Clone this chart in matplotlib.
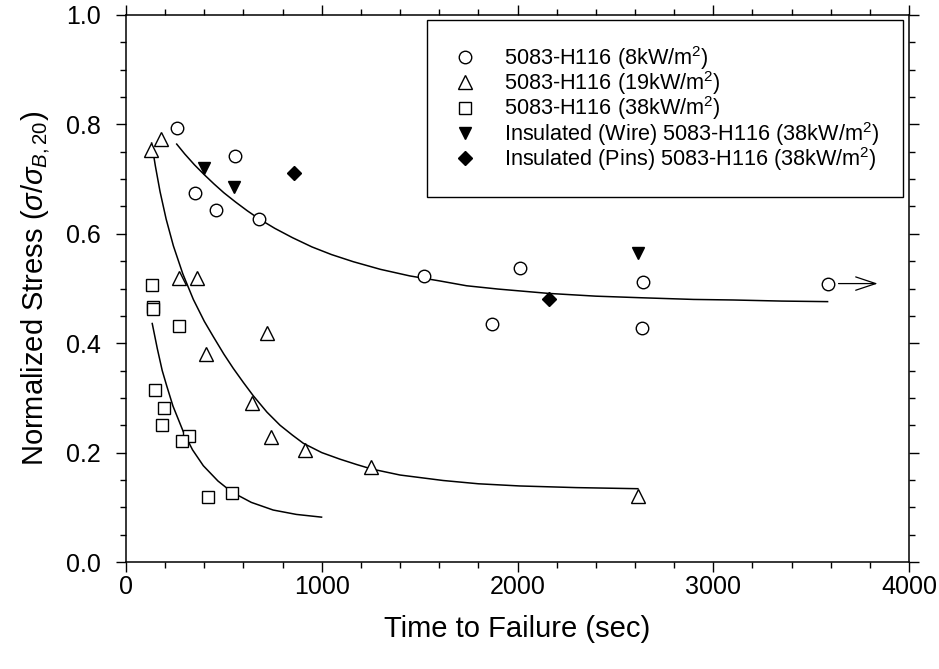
import matplotlib
matplotlib.use("Agg")
import matplotlib.pyplot as plt
from matplotlib.ticker import MultipleLocator, FormatStrFormatter

plt.rcParams['font.family'] = ['Liberation Sans', 'DejaVu Sans']
plt.rcParams['mathtext.fontset'] = 'custom'
plt.rcParams['mathtext.rm'] = 'Liberation Sans'
plt.rcParams['mathtext.it'] = 'Liberation Sans:italic'

# Datos
t_8kw = [259, 555, 352, 460, 681, 1522, 2012, 1869, 2639, 2637, 3584]
s_8kw = [0.793, 0.743, 0.675, 0.644, 0.627, 0.522, 0.538, 0.435, 0.512, 0.427, 0.509]

t_19kw = [126, 179, 272, 364, 409, 719, 644, 741, 913, 1250, 2615]
s_19kw = [0.754, 0.773, 0.519, 0.519, 0.380, 0.418, 0.291, 0.228, 0.205, 0.173, 0.121]

t_38kw = [131, 136, 139, 272, 148, 193, 182, 323, 288, 420, 540]
s_38kw = [0.506, 0.467, 0.462, 0.431, 0.314, 0.282, 0.250, 0.231, 0.221, 0.118, 0.126]

t_wire = [398, 552, 2618]
s_wire = [0.721, 0.686, 0.565]

t_pins = [860, 2160]
s_pins = [0.711, 0.480]

# Curvas de ajuste
fit1_t = [259, 300, 350, 400, 450, 500, 560, 620, 681, 760, 850, 950, 1050, 1161,
          1300, 1450, 1600, 1740, 1900, 2160, 2400, 2639, 2900, 3102, 3350, 3584]
fit1_s = [0.764, 0.746, 0.726, 0.708, 0.691, 0.675, 0.658, 0.642, 0.627, 0.610, 0.593,
          0.576, 0.562, 0.549, 0.535, 0.523, 0.514, 0.505, 0.499, 0.491, 0.486, 0.483,
          0.480, 0.479, 0.477, 0.476]

fit2_t = [131, 150, 174, 205, 242, 290, 344, 400, 446, 500, 548, 600, 650, 720, 787,
          850, 906, 1000, 1093, 1180, 1255, 1400, 1620, 1800, 2012, 2300, 2615]
fit2_s = [0.766, 0.724, 0.677, 0.627, 0.578, 0.527, 0.480, 0.440, 0.412, 0.380, 0.354,
          0.328, 0.304, 0.274, 0.250, 0.232, 0.217, 0.200, 0.188, 0.178, 0.170, 0.159,
          0.149, 0.143, 0.139, 0.136, 0.134]

fit3_t = [134, 160, 185, 208, 240, 293, 340, 395, 470, 540, 640, 752, 870, 999]
fit3_s = [0.436, 0.390, 0.350, 0.322, 0.285, 0.238, 0.205, 0.176, 0.148, 0.128, 0.109,
          0.095, 0.087, 0.082]

# Flecha (ensayo sin falla)
flecha_inicio = (3640, 0.509)
flecha_fin = (3840, 0.509)

fig = plt.figure(figsize=(9.39, 6.69), dpi=100)
ax = fig.add_axes([126 / 939, 1 - 562 / 669, 783 / 939, 547 / 669])

ax.plot(fit1_t, fit1_s, color='black', lw=1.1)
ax.plot(fit2_t, fit2_s, color='black', lw=1.1)
ax.plot(fit3_t, fit3_s, color='black', lw=1.1)

ms = 9
ax.plot(t_8kw, s_8kw, 'o', ms=ms, mfc='white', mec='black', mew=1.0,
        label='5083-H116 (8kW/m$^2$)')
ax.plot(t_19kw, s_19kw, '^', ms=ms + 0.5, mfc='white', mec='black', mew=1.0,
        label='5083-H116 (19kW/m$^2$)')
ax.plot(t_38kw, s_38kw, 's', ms=ms - 0.5, mfc='white', mec='black', mew=1.0,
        label='5083-H116 (38kW/m$^2$)')
ax.plot(t_wire, s_wire, 'v', ms=ms, color='black',
        label='Insulated (Wire) 5083-H116 (38kW/m$^2$)')
ax.plot(t_pins, s_pins, 'D', ms=ms - 1.5, color='black',
        label='Insulated (Pins) 5083-H116 (38kW/m$^2$)')

ax.annotate('', xy=flecha_fin, xytext=flecha_inicio,
            arrowprops=dict(arrowstyle='->,head_length=0.6,head_width=0.2',
                            color='black', lw=0.9, mutation_scale=24,
                            shrinkA=0, shrinkB=0))

ax.set_xlim(0, 4000)
ax.set_ylim(0, 1.0)
ax.xaxis.set_major_locator(MultipleLocator(1000))
ax.xaxis.set_minor_locator(MultipleLocator(200))
ax.yaxis.set_major_locator(MultipleLocator(0.2))
ax.yaxis.set_minor_locator(MultipleLocator(0.05))
ax.yaxis.set_major_formatter(FormatStrFormatter('%.1f'))

ax.tick_params(which='both', direction='out', top=True, right=True,
               labeltop=False, labelright=False, width=1.0, labelsize=18)
ax.tick_params(which='major', length=7)
ax.tick_params(which='minor', length=4)
ax.tick_params(axis='x', which='major', pad=2)
ax.tick_params(axis='y', which='major', pad=11)
for sp in ax.spines.values():
    sp.set_linewidth(1.1)

ax.set_xlabel('Time to Failure (sec)', fontsize=21, labelpad=12)
ax.set_ylabel(r'Normalized Stress ($\sigma/\sigma_{B,20}$)', fontsize=21, labelpad=10)

leg = ax.legend(loc='upper right', bbox_to_anchor=(0.992, 0.991), borderaxespad=0,
                fontsize=15.6, frameon=True, fancybox=False, edgecolor='black',
                framealpha=1, handlelength=1.3, handletextpad=1.15,
                borderpad=1.1, labelspacing=-0.12)
leg.get_frame().set_linewidth(1.0)

fig.savefig('out.png', dpi=100)
